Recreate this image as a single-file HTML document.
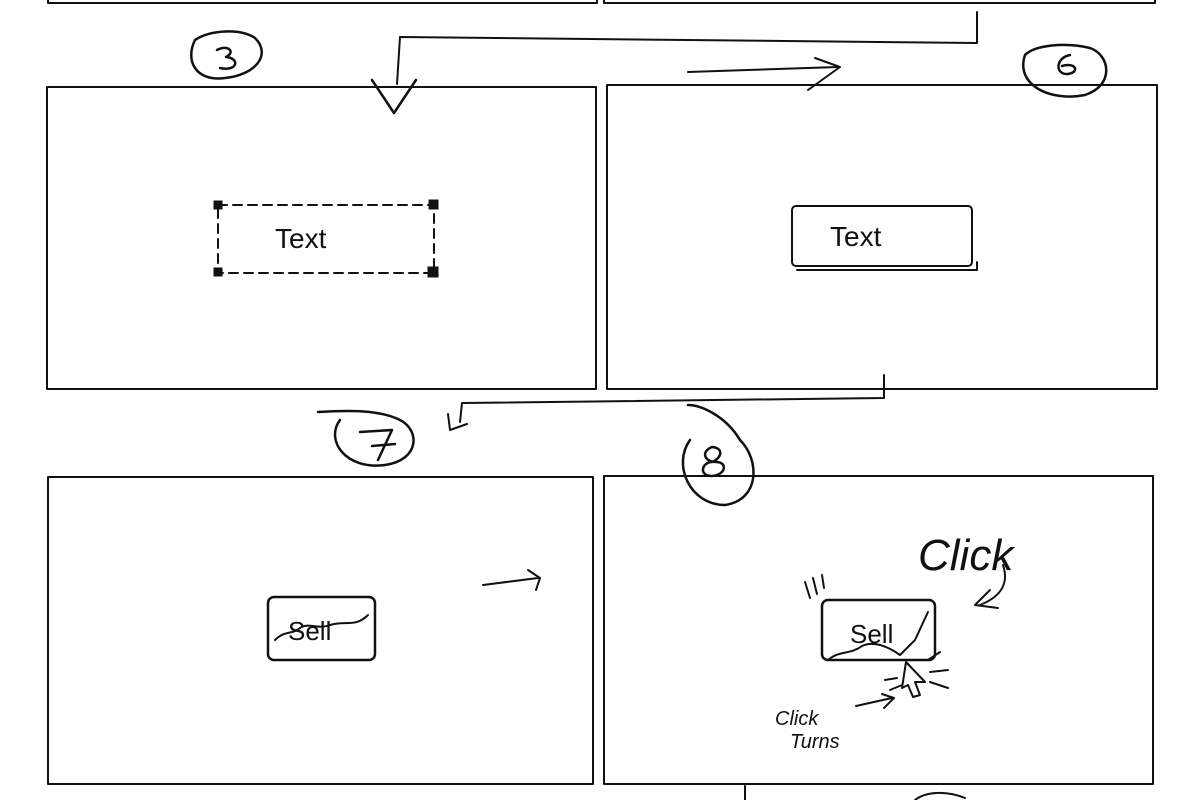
<!DOCTYPE html>
<html><head><meta charset="utf-8"><style>
html,body{margin:0;padding:0;background:#fff;}
svg{display:block;}
text{font-family:"Liberation Sans",sans-serif;fill:#111;}
</style></head><body>
<svg width="1200" height="800" viewBox="0 0 1200 800" xmlns="http://www.w3.org/2000/svg">
<g fill="none" stroke="#111" stroke-width="2" stroke-linecap="round" stroke-linejoin="round">
<!-- top partial frames -->
<path d="M48 0 V3 H597 V0"/>
<path d="M604 0 V3 H1155 V0"/>
<!-- frames -->
<rect x="47" y="87" width="549" height="302"/>
<rect x="607" y="85" width="550" height="304"/>
<rect x="48" y="477" width="545" height="307"/>
<rect x="604" y="476" width="549" height="308"/>
<!-- connector top -->
<path d="M977 12 V43 L400 37 L397 84"/>
<path d="M372 80 L394 113 L416 80" stroke-width="2.5"/>
<!-- arrow right -->
<path d="M688 72 L838 67"/>
<path d="M808 90 L840 67 L815 58"/>
<!-- circles -->
<path d="M195 40 C185 60 195 82 225 78 C255 75 272 55 255 38 C240 28 210 30 195 40" stroke-width="2.5"/>
<path d="M1025 55 C1015 85 1050 102 1085 95 C1115 85 1110 55 1090 48 C1065 42 1035 45 1025 55" stroke-width="2.5"/>
<path d="M340 420 C325 440 345 470 385 465 C420 460 420 430 400 420 C380 410 350 410 318 412" stroke-width="2.5"/>
<path d="M690 440 C672 465 690 505 725 505 C760 500 760 460 740 440 C725 415 700 405 688 405" stroke-width="2.5"/>
<!-- numbers -->
<path d="M217 50 C228 44 236 52 226 57 C240 58 238 72 220 68" stroke-width="2.5"/>
<path d="M1070 55 C1055 58 1055 75 1068 74 C1080 72 1076 62 1062 66" stroke-width="2.5"/>
<path d="M360 432 L392 430 L378 460 M372 446 L395 444" stroke-width="2.5"/>
<path d="M712 447 C700 452 705 462 716 462 C728 462 726 475 712 476 C698 476 702 462 712 462 C722 458 724 448 712 447" stroke-width="2.5"/>
<!-- connector 2 -->
<path d="M884 375 V398 L462 403 L460 422"/>
<path d="M448 414 L450 430 L467 424"/>
<!-- small arrow frame 7 -->
<path d="M483 585 L538 578 M528 570 L540 578 L536 590"/>
<!-- dashed box frame 3 -->
<rect x="218" y="205" width="216" height="68" stroke-dasharray="9 6"/>
<!-- button frame 6 -->
<rect x="792" y="206" width="180" height="60" rx="4"/>
<path d="M797 270 H977 V262"/>
<!-- button frame 7 -->
<rect x="268" y="597" width="107" height="63" rx="6" stroke-width="2.5"/>
<path d="M275 640 C285 630 292 635 300 628 C308 622 318 630 330 625 C345 620 355 628 368 615"/>
<!-- button frame 8 -->
<rect x="822" y="600" width="113" height="60" rx="6" stroke-width="2.5"/>
<path d="M828 660 C840 650 850 655 862 646 C875 640 890 648 900 655 L915 640 L928 612"/>
<path d="M805 582 L810 598 M813 578 L817 594 M822 575 L824 588"/>
<!-- click arrow -->
<path d="M1003 565 C1008 580 1005 595 980 605 M990 590 L975 605 L998 608"/>
<!-- cursor -->
<path d="M902 688 L906 662 L925 682 L915 682 L920 695 L913 697 L908 685 Z"/>
<path d="M928 660 L940 652 M930 672 L948 670 M930 682 L948 688 M885 680 L897 678 M890 690 L902 685"/>
<path d="M856 706 L892 698 M882 694 L894 698 L884 708"/>
<!-- bottom -->
<path d="M745 786 V800"/>
<path d="M915 800 C925 792 945 790 965 798"/>
</g>
<g stroke="#111" fill="#111">
<rect x="214" y="201" width="8" height="8"/>
<rect x="429" y="200" width="9" height="9"/>
<rect x="214" y="268" width="8" height="8"/>
<rect x="428" y="267" width="10" height="10"/>
</g>
<text x="275" y="248" font-size="28" font-family="Liberation Serif">Text</text>
<text x="830" y="246" font-size="28" font-family="Liberation Serif">Text</text>
<text x="288" y="640" font-size="26">Sell</text>
<text x="850" y="643" font-size="26">Sell</text>
<text x="918" y="570" font-size="44" font-style="italic" font-family="Liberation Serif">Click</text>
<text x="775" y="725" font-size="20" font-style="italic" font-family="Liberation Serif">Click</text>
<text x="790" y="748" font-size="20" font-style="italic" font-family="Liberation Serif">Turns</text>
</svg>
</body></html>
